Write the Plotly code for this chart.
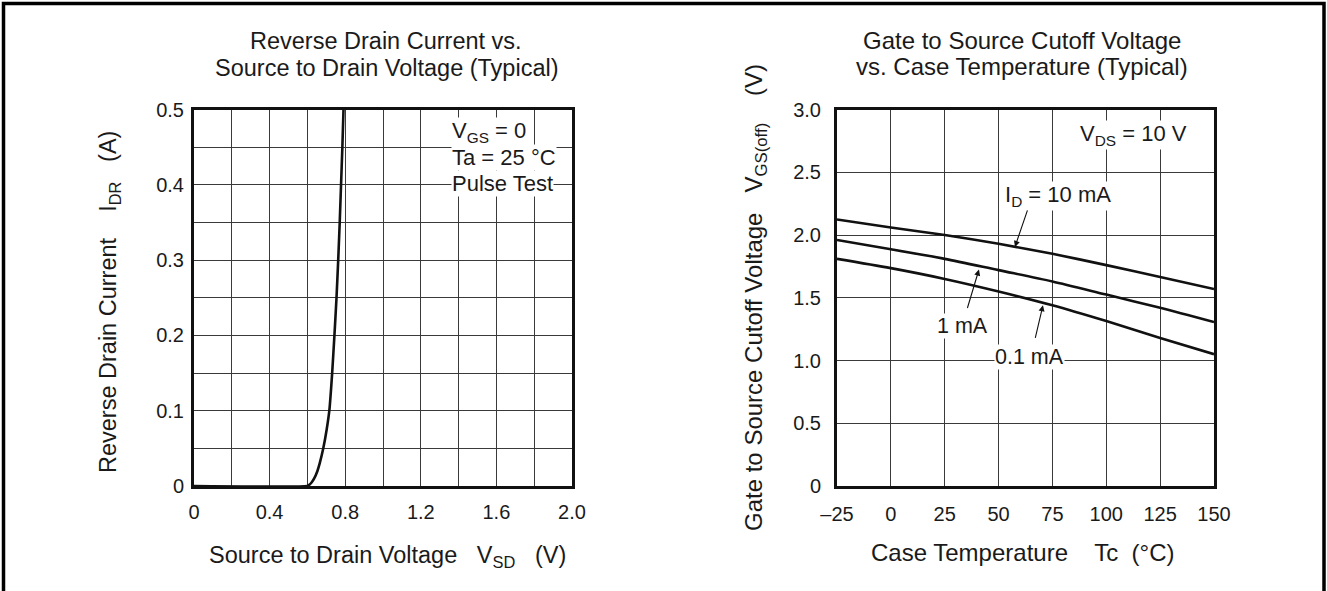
import plotly.graph_objects as go

W, H = 1327, 591

# ---- data: left chart (Reverse drain current vs source-drain voltage)
vsd = [0.0, 0.60, 0.612, 0.623, 0.636, 0.653, 0.665, 0.684, 0.702, 0.716, 0.731, 0.743, 0.754, 0.763, 0.771, 0.778, 0.785, 0.791]
idr = [0.0, 0.0, 0.002, 0.005, 0.010, 0.020, 0.030, 0.050, 0.075, 0.100, 0.150, 0.200, 0.250, 0.300, 0.350, 0.400, 0.450, 0.500]

# ---- data: right chart (VGS(off) vs case temperature)
tc = [-25, 0, 25, 50, 75, 100, 125, 150]
vgs_10ma = [2.124, 2.06, 2.00, 1.93, 1.85, 1.76, 1.665, 1.57]
vgs_1ma = [1.96, 1.887, 1.81, 1.72, 1.63, 1.525, 1.42, 1.306]
vgs_01ma = [1.81, 1.736, 1.65, 1.55, 1.44, 1.314, 1.18, 1.05]

left_xticks = [0, 0.4, 0.8, 1.2, 1.6, 2.0]
left_xtext = ["0", "0.4", "0.8", "1.2", "1.6", "2.0"]
left_yticks = [0, 0.1, 0.2, 0.3, 0.4, 0.5]
left_ytext = ["0", "0.1", "0.2", "0.3", "0.4", "0.5"]
right_xticks = [-25, 0, 25, 50, 75, 100, 125, 150]
right_xtext = ["\u201325", "0", "25", "50", "75", "100", "125", "150"]
right_yticks = [0, 0.5, 1.0, 1.5, 2.0, 2.5, 3.0]
right_ytext = ["0", "0.5", "1.0", "1.5", "2.0", "2.5", "3.0"]


def px(x):
    return x / W


def py(y):
    return (H - y) / H


FONT = "Liberation Sans, Arial, Helvetica, sans-serif"
FTL = 23.5  # left titles
FTR = 24    # right titles
FK = 20     # tick labels
FA = 22     # in-plot labels
TXT = "#1a1a1a"
GRID = "#3a3a3a"

fig = go.Figure()

fig.add_trace(go.Scatter(x=vsd, y=idr, mode="lines", line=dict(color="#111", width=2.6, shape="spline", smoothing=0.4),
                         xaxis="x", yaxis="y", showlegend=False, hoverinfo="skip"))
for ys in (vgs_10ma, vgs_1ma, vgs_01ma):
    fig.add_trace(go.Scatter(x=tc, y=ys, mode="lines", line=dict(color="#111", width=2.6, shape="spline", smoothing=0.8),
                             xaxis="x2", yaxis="y2", showlegend=False, hoverinfo="skip"))

ydom = [py(486), py(109.5)]
axis_common = dict(showline=True, linecolor="#111", linewidth=3, mirror=True, gridcolor=GRID, gridwidth=1,
                   zeroline=False, ticks="", tickfont=dict(family=FONT, size=FK, color=TXT), fixedrange=True,
                   automargin=False)

fig.update_layout(
    width=W, height=H, margin=dict(l=0, r=0, t=0, b=0, pad=0, autoexpand=False),
    paper_bgcolor="white", plot_bgcolor="white",
    font=dict(family=FONT, size=FTL, color=TXT),
    xaxis=dict(domain=[px(194), px(572)], range=[0, 2.0], tickvals=left_xticks, ticktext=left_xtext,
               minor=dict(dtick=0.2, tick0=0, showgrid=True, gridcolor=GRID, gridwidth=1), ticklabelstandoff=6, **axis_common),
    yaxis=dict(domain=ydom, range=[0, 0.5], tickvals=left_yticks, ticktext=left_ytext,
               minor=dict(dtick=0.05, tick0=0, showgrid=True, gridcolor=GRID, gridwidth=1), ticklabelstandoff=3, **axis_common),
    xaxis2=dict(domain=[px(837), px(1214)], range=[-25, 150], tickvals=right_xticks, ticktext=right_xtext,
                anchor="y2", ticklabelstandoff=8, **axis_common),
    yaxis2=dict(domain=ydom, range=[0, 3.0], tickvals=right_yticks, ticktext=right_ytext,
                anchor="x2", ticklabelstandoff=9, **axis_common),
)


def label(text, x, y, size, xanchor="center", angle=0, bg=None):
    d = dict(text=text, x=px(x), y=py(y), xref="paper", yref="paper", showarrow=False,
             font=dict(size=size), xanchor=xanchor, yanchor="middle", textangle=angle)
    if bg:
        d.update(bgcolor=bg, borderpad=0)
    return d


ann = [
    # titles
    label("Reverse Drain Current vs.", 386, 41, FTL),
    label("Source to Drain Voltage (Typical)", 387, 68, FTL),
    label("Gate to Source Cutoff Voltage", 1022, 40, FTR),
    label("vs. Case Temperature (Typical)", 1022, 67, FTR),
    # axis titles
    label("Source to Drain Voltage   V<sub>SD</sub>   (V)", 387, 556, FTL),
    label("Case Temperature    Tc  (\u00b0C)", 1022, 552, FTR),
    label("Reverse Drain Current    I<sub>DR</sub>   (A)", 109, 302, FTL, angle=-90),
    label("Gate to Source Cutoff Voltage   V<sub>GS(off)</sub>    (V)", 755, 298, FTR, angle=-90),
    # condition labels
    label("V<sub>GS</sub> = 0", 451, 132, FA, xanchor="left", bg="white"),
    label("Ta = 25 \u00b0C", 451, 157, FA, xanchor="left", bg="white"),
    label("Pulse Test", 451, 183, FA, xanchor="left", bg="white"),
    label("V<sub>DS</sub> = 10 V", 1079, 135, FA, xanchor="left", bg="white"),
    label("I<sub>D</sub> = 10 mA", 1058, 196, FA, bg="white"),
    label("1 mA", 962, 326, FA - 0.5, bg="white"),
    label("0.1 mA", 1029, 357, FA - 0.5, bg="white"),
]
# arrows
arrow = dict(showarrow=True, arrowhead=2, arrowsize=1.1, arrowwidth=1.1, arrowcolor="#111", text="", xref="x2", yref="y2",
             standoff=0)
ann.append(dict(x=57.6, y=1.905, ax=13, ay=-38, **arrow))
ann.append(dict(x=40.9, y=1.725, ax=-12, ay=40, **arrow))
ann.append(dict(x=70.6, y=1.44, ax=-8, ay=34, **arrow))

fig.update_layout(annotations=ann)

# outer frame
fig.add_shape(type="rect", xref="paper", yref="paper", x0=px(3.5), x1=px(1324), y0=-0.1, y1=py(3.5),
              line=dict(color="#000", width=3.5), fillcolor="rgba(0,0,0,0)", layer="above")

fig.write_html("out.html", post_script="document.body.style.margin='0px';document.body.style.overflow='hidden';")
